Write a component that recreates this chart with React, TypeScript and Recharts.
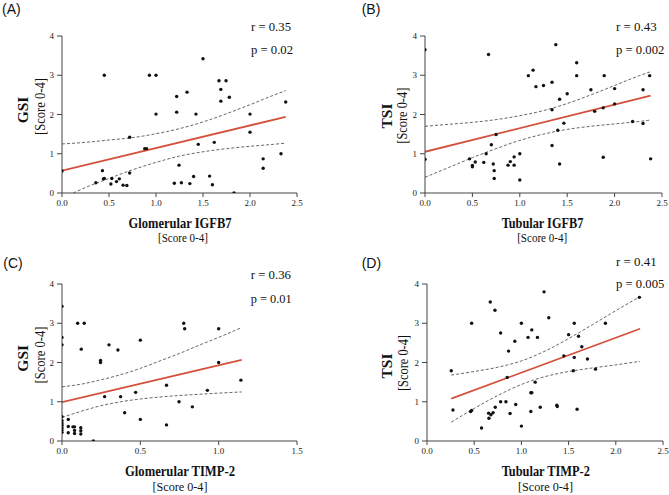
import React from 'react';
import { ComposedChart, Scatter, Line, XAxis, YAxis } from 'recharts';

type P = { x: number; y: number };

const xTicksWide = [0, 0.5, 1, 1.5, 2, 2.5];
const xTicksNarrow = [0, 0.5, 1, 1.5];
const yTicks = [0, 1, 2, 3, 4];

// (A) Glomerular IGFB7 vs GSI
const pointsA: P[] = [
  { x: 0, y: 0.56 }, { x: 0.45, y: 3.0 }, { x: 0.36, y: 0.26 }, { x: 0.43, y: 0.57 },
  { x: 0.44, y: 0.36 }, { x: 0.45, y: 0.37 }, { x: 0.52, y: 0.23 }, { x: 0.53, y: 0.37 },
  { x: 0.58, y: 0.29 }, { x: 0.61, y: 0.36 }, { x: 0.65, y: 0.2 }, { x: 0.69, y: 0.19 },
  { x: 0.72, y: 0.51 }, { x: 0.72, y: 1.42 }, { x: 0.88, y: 1.13 }, { x: 0.9, y: 1.13 },
  { x: 0.93, y: 3.0 }, { x: 1.0, y: 3.0 }, { x: 1.0, y: 2.01 }, { x: 1.195, y: 0.25 },
  { x: 1.22, y: 2.46 }, { x: 1.22, y: 2.06 }, { x: 1.245, y: 0.71 }, { x: 1.27, y: 0.26 },
  { x: 1.33, y: 2.57 }, { x: 1.36, y: 0.24 }, { x: 1.4, y: 0.42 }, { x: 1.425, y: 2.01 },
  { x: 1.45, y: 1.24 }, { x: 1.5, y: 3.42 }, { x: 1.57, y: 0.43 }, { x: 1.6, y: 0.21 },
  { x: 1.62, y: 1.29 }, { x: 1.67, y: 2.86 }, { x: 1.69, y: 2.64 }, { x: 1.69, y: 2.34 },
  { x: 1.745, y: 2.86 }, { x: 1.78, y: 2.44 }, { x: 1.83, y: 0.0 }, { x: 2.0, y: 2.01 },
  { x: 2.0, y: 1.55 }, { x: 2.14, y: 0.87 }, { x: 2.14, y: 0.63 }, { x: 2.33, y: 1.0 },
  { x: 2.38, y: 2.32 },
];
const fitA: P[] = [{ x: 0, y: 0.57 }, { x: 2.38, y: 1.94 }];
const upperA: P[] = [
  { x: 0, y: 1.25 }, { x: 0.25, y: 1.29 }, { x: 0.5, y: 1.35 }, { x: 0.75, y: 1.41 },
  { x: 1.0, y: 1.51 }, { x: 1.25, y: 1.64 }, { x: 1.5, y: 1.81 }, { x: 1.75, y: 2.02 },
  { x: 2.0, y: 2.25 }, { x: 2.25, y: 2.49 }, { x: 2.38, y: 2.61 },
];
const lowerA: P[] = [
  { x: 0.12, y: 0 }, { x: 0.25, y: 0.14 }, { x: 0.5, y: 0.37 }, { x: 0.75, y: 0.59 },
  { x: 1.0, y: 0.78 }, { x: 1.25, y: 0.94 }, { x: 1.5, y: 1.05 }, { x: 1.75, y: 1.13 },
  { x: 2.0, y: 1.19 }, { x: 2.25, y: 1.24 }, { x: 2.38, y: 1.27 },
];

// (B) Tubular IGFB7 vs TSI
const pointsB: P[] = [
  { x: 0, y: 3.65 }, { x: 0, y: 0.86 }, { x: 0.67, y: 3.53 }, { x: 0.47, y: 0.87 },
  { x: 0.5, y: 0.7 }, { x: 0.5, y: 0.67 }, { x: 0.53, y: 0.79 }, { x: 0.62, y: 0.78 },
  { x: 0.645, y: 1.0 }, { x: 0.7, y: 1.23 }, { x: 0.72, y: 0.74 }, { x: 0.73, y: 0.57 },
  { x: 0.73, y: 0.37 }, { x: 0.75, y: 1.49 }, { x: 0.876, y: 0.71 }, { x: 0.9, y: 0.8 },
  { x: 0.94, y: 0.92 }, { x: 0.94, y: 0.71 }, { x: 1.0, y: 1.0 }, { x: 1.0, y: 0.33 },
  { x: 1.09, y: 2.99 }, { x: 1.14, y: 3.13 }, { x: 1.17, y: 2.71 }, { x: 1.25, y: 2.74 },
  { x: 1.34, y: 2.82 }, { x: 1.34, y: 2.12 }, { x: 1.34, y: 1.21 }, { x: 1.38, y: 3.78 },
  { x: 1.4, y: 1.6 }, { x: 1.42, y: 2.39 }, { x: 1.42, y: 0.74 }, { x: 1.465, y: 1.78 },
  { x: 1.5, y: 2.53 }, { x: 1.6, y: 3.32 }, { x: 1.6, y: 2.99 }, { x: 1.75, y: 2.63 },
  { x: 1.79, y: 2.08 }, { x: 1.88, y: 2.17 }, { x: 1.88, y: 0.91 }, { x: 1.89, y: 2.99 },
  { x: 2.0, y: 2.66 }, { x: 2.0, y: 2.27 }, { x: 2.19, y: 1.82 }, { x: 2.3, y: 1.77 },
  { x: 2.3, y: 2.63 }, { x: 2.37, y: 2.99 }, { x: 2.38, y: 0.87 },
];
const fitB: P[] = [{ x: 0, y: 1.05 }, { x: 2.38, y: 2.48 }];
const upperB: P[] = [
  { x: 0, y: 1.7 }, { x: 0.25, y: 1.75 }, { x: 0.5, y: 1.8 }, { x: 0.75, y: 1.87 },
  { x: 1.0, y: 1.97 }, { x: 1.25, y: 2.1 }, { x: 1.5, y: 2.28 }, { x: 1.75, y: 2.5 },
  { x: 2.0, y: 2.74 }, { x: 2.25, y: 2.98 }, { x: 2.38, y: 3.09 },
];
const lowerB: P[] = [
  { x: 0, y: 0.4 }, { x: 0.25, y: 0.65 }, { x: 0.5, y: 0.9 }, { x: 0.75, y: 1.13 },
  { x: 1.0, y: 1.34 }, { x: 1.25, y: 1.5 }, { x: 1.5, y: 1.62 }, { x: 1.75, y: 1.7 },
  { x: 2.0, y: 1.76 }, { x: 2.25, y: 1.82 }, { x: 2.38, y: 1.86 },
];

// (C) Glomerular TIMP-2 vs GSI
const pointsC: P[] = [
  { x: 0, y: 3.43 }, { x: 0, y: 2.64 }, { x: 0, y: 2.45 }, { x: 0, y: 0.62 },
  { x: 0, y: 0.52 }, { x: 0, y: 0.46 }, { x: 0, y: 0.4 }, { x: 0, y: 0.34 },
  { x: 0, y: 0.28 }, { x: 0, y: 0.22 }, { x: 0.04, y: 0.55 }, { x: 0.04, y: 0.37 },
  { x: 0.04, y: 0.21 }, { x: 0.07, y: 0.36 }, { x: 0.08, y: 0.36 }, { x: 0.08, y: 0.27 },
  { x: 0.08, y: 0.19 }, { x: 0.12, y: 0.34 }, { x: 0.12, y: 0.26 }, { x: 0.12, y: 0.18 },
  { x: 0.2, y: 0 }, { x: 0.1, y: 3.0 }, { x: 0.142, y: 3.0 }, { x: 0.123, y: 2.34 },
  { x: 0.246, y: 2.05 }, { x: 0.246, y: 2.0 }, { x: 0.272, y: 1.13 }, { x: 0.3, y: 2.45 },
  { x: 0.357, y: 2.32 }, { x: 0.374, y: 1.13 }, { x: 0.4, y: 0.72 }, { x: 0.47, y: 1.24 },
  { x: 0.5, y: 2.57 }, { x: 0.5, y: 0.55 }, { x: 0.667, y: 1.42 }, { x: 0.667, y: 0.41 },
  { x: 0.747, y: 1.0 }, { x: 0.777, y: 3.0 }, { x: 0.783, y: 2.86 }, { x: 0.832, y: 0.87 },
  { x: 0.928, y: 1.29 }, { x: 1.0, y: 2.86 }, { x: 1.0, y: 2.0 }, { x: 1.142, y: 1.55 },
];
const fitC: P[] = [{ x: 0, y: 0.99 }, { x: 1.147, y: 2.07 }];
const upperC: P[] = [
  { x: 0, y: 1.38 }, { x: 0.125, y: 1.45 }, { x: 0.25, y: 1.56 }, { x: 0.375, y: 1.69 },
  { x: 0.5, y: 1.85 }, { x: 0.625, y: 2.04 }, { x: 0.75, y: 2.23 }, { x: 0.875, y: 2.44 },
  { x: 1.0, y: 2.64 }, { x: 1.147, y: 2.89 },
];
const lowerC: P[] = [
  { x: 0, y: 0.6 }, { x: 0.125, y: 0.76 }, { x: 0.25, y: 0.9 }, { x: 0.375, y: 1.0 },
  { x: 0.5, y: 1.07 }, { x: 0.625, y: 1.12 }, { x: 0.75, y: 1.16 }, { x: 0.875, y: 1.19 },
  { x: 1.0, y: 1.22 }, { x: 1.147, y: 1.25 },
];

// (D) Tubular TIMP-2 vs TSI
const pointsD: P[] = [
  { x: 0.257, y: 1.79 }, { x: 0.275, y: 0.79 }, { x: 0.473, y: 3.0 }, { x: 0.462, y: 0.75 },
  { x: 0.473, y: 0.78 }, { x: 0.578, y: 0.33 }, { x: 0.67, y: 3.54 }, { x: 0.72, y: 3.33 },
  { x: 0.653, y: 0.71 }, { x: 0.656, y: 0.58 }, { x: 0.677, y: 0.67 }, { x: 0.7, y: 0.72 },
  { x: 0.723, y: 0.86 }, { x: 0.78, y: 2.75 }, { x: 0.78, y: 1.0 }, { x: 0.836, y: 1.0 },
  { x: 0.85, y: 1.62 }, { x: 0.864, y: 2.29 }, { x: 0.88, y: 0.7 }, { x: 0.93, y: 2.54 },
  { x: 0.94, y: 0.93 }, { x: 1.0, y: 3.0 }, { x: 1.0, y: 0.38 }, { x: 1.07, y: 2.64 },
  { x: 1.1, y: 1.23 }, { x: 1.11, y: 1.23 }, { x: 1.1, y: 0.75 }, { x: 1.11, y: 2.83 },
  { x: 1.146, y: 1.5 }, { x: 1.17, y: 2.64 }, { x: 1.2, y: 0.86 }, { x: 1.24, y: 3.8 },
  { x: 1.29, y: 3.14 }, { x: 1.375, y: 0.91 }, { x: 1.38, y: 0.88 }, { x: 1.45, y: 2.17 },
  { x: 1.5, y: 2.71 }, { x: 1.56, y: 3.0 }, { x: 1.56, y: 2.13 }, { x: 1.55, y: 1.79 },
  { x: 1.605, y: 2.67 }, { x: 1.59, y: 0.81 }, { x: 1.64, y: 2.4 }, { x: 1.7, y: 2.09 },
  { x: 1.785, y: 1.83 }, { x: 1.89, y: 3.0 }, { x: 2.25, y: 3.66 },
];
const fitD: P[] = [{ x: 0.257, y: 1.08 }, { x: 2.257, y: 2.86 }];
const upperD: P[] = [
  { x: 0.257, y: 1.68 }, { x: 0.5, y: 1.77 }, { x: 0.75, y: 1.88 }, { x: 1.0, y: 2.04 },
  { x: 1.25, y: 2.29 }, { x: 1.5, y: 2.61 }, { x: 1.75, y: 2.96 }, { x: 2.0, y: 3.32 },
  { x: 2.257, y: 3.68 },
];
const lowerD: P[] = [
  { x: 0.257, y: 0.48 }, { x: 0.5, y: 0.83 }, { x: 0.75, y: 1.16 }, { x: 1.0, y: 1.44 },
  { x: 1.25, y: 1.64 }, { x: 1.5, y: 1.77 }, { x: 1.75, y: 1.86 }, { x: 2.0, y: 1.94 },
  { x: 2.257, y: 2.03 },
];

const SERIF = '"Liberation Serif", "Times New Roman", serif';
const SANS = '"Liberation Sans", Arial, sans-serif';
const RED = '#d4503b';
const W = 334;
const H = 247;

type Cfg = {
  ox: number; oy: number; yW: number; right: number;
  xMax: number; xTicks: number[];
  points: P[]; fit: P[]; upper: P[]; lower: P[];
  letter: string; letterX: number; letterY: number;
  r: string; p: string; rX: number; rY: number; pY: number; rW: number; pW: number;
  xTitle: string; xTitleX: number; xTitleW: number; xTitleY: number;
  xSubX: number; xSubW: number; xSubY: number;
  yTitle: string; yTitleX: number; yTitleY: number;
  ySubX: number; ySubY: number; ySubW: number;
};

const panels: Cfg[] = [
  {
    ox: 0, oy: 0, yW: 62, right: 37, xMax: 2.5, xTicks: xTicksWide,
    points: pointsA, fit: fitA, upper: upperA, lower: lowerA,
    letter: '(A)', letterX: 2, letterY: 13.5,
    r: 'r = 0.35', p: 'p = 0.02', rX: 251, rY: 30.7, pY: 54, rW: 40, pW: 42,
    xTitle: 'Glomerular IGFB7', xTitleX: 180, xTitleW: 103, xTitleY: 228.3,
    xSubX: 183, xSubW: 50, xSubY: 242.3,
    yTitle: 'GSI', yTitleX: 28, yTitleY: 110,
    ySubX: 44.5, ySubY: 106.5, ySubW: 57,
  },
  {
    ox: 335, oy: 0, yW: 90, right: 7, xMax: 2.5, xTicks: xTicksWide,
    points: pointsB, fit: fitB, upper: upperB, lower: lowerB,
    letter: '(B)', letterX: 26.7, letterY: 13.5,
    r: 'r = 0.43', p: 'p = 0.002', rX: 281, rY: 30.7, pY: 54, rW: 40.7, pW: 48.3,
    xTitle: 'Tubular IGFB7', xTitleX: 207.5, xTitleW: 81.7, xTitleY: 228.3,
    xSubX: 207.2, xSubW: 50, xSubY: 242.3,
    yTitle: 'TSI', yTitleX: 56.7, yTitleY: 116,
    ySubX: 72.5, ySubY: 115.7, ySubW: 56,
  },
  {
    ox: 0, oy: 248, yW: 62, right: 37, xMax: 1.5, xTicks: xTicksNarrow,
    points: pointsC, fit: fitC, upper: upperC, lower: lowerC,
    letter: '(C)', letterX: 3.3, letterY: 20.3,
    r: 'r = 0.36', p: 'p = 0.01', rX: 250.7, rY: 31.3, pY: 54.7, rW: 40.3, pW: 41,
    xTitle: 'Glomerular TIMP-2', xTitleX: 180, xTitleW: 110, xTitleY: 228,
    xSubX: 180, xSubW: 55, xSubY: 242.7,
    yTitle: 'GSI', yTitleX: 28, yTitleY: 110.3,
    ySubX: 44.5, ySubY: 107, ySubW: 57,
  },
  {
    ox: 335, oy: 248, yW: 92, right: 6, xMax: 2.5, xTicks: xTicksWide,
    points: pointsD, fit: fitD, upper: upperD, lower: lowerD,
    letter: '(D)', letterX: 26.7, letterY: 20.3,
    r: 'r = 0.41', p: 'p = 0.005', rX: 281, rY: 18, pY: 40.3, rW: 40.7, pW: 48.3,
    xTitle: 'Tubular TIMP-2', xTitleX: 210.8, xTitleW: 88.3, xTitleY: 228,
    xSubX: 210.5, xSubW: 55, xSubY: 242.7,
    yTitle: 'TSI', yTitleX: 56.7, yTitleY: 118,
    ySubX: 72.5, ySubY: 115, ySubW: 56,
  },
];

const Dot = (props: any) => {
  if (props.cx == null || props.cy == null) return <g />;
  return <circle cx={props.cx} cy={props.cy} r={1.7} fill="#111" />;
};

const XTexts = ({ cfg }: { cfg: Cfg }) => (
  <g>
    <text x={cfg.letterX} y={cfg.letterY} fontFamily={SANS} fontSize={14} fill="#111">{cfg.letter}</text>
    <text x={cfg.rX} y={cfg.rY} fontFamily={SERIF} fontSize={13.5} fill="#111"
      textLength={cfg.rW} lengthAdjust="spacingAndGlyphs">{cfg.r}</text>
    <text x={cfg.rX} y={cfg.pY} fontFamily={SERIF} fontSize={13.5} fill="#111"
      textLength={cfg.pW} lengthAdjust="spacingAndGlyphs">{cfg.p}</text>
    <text x={cfg.xTitleX} y={cfg.xTitleY} textAnchor="middle" fontFamily={SERIF} fontWeight="bold"
      fontSize={15} fill="#111" textLength={cfg.xTitleW} lengthAdjust="spacingAndGlyphs">{cfg.xTitle}</text>
    <text x={cfg.xSubX} y={cfg.xSubY} textAnchor="middle" fontFamily={SERIF}
      fontSize={13.5} fill="#111" textLength={cfg.xSubW} lengthAdjust="spacingAndGlyphs">[Score 0-4]</text>
  </g>
);

const YTexts = ({ cfg }: { cfg: Cfg }) => (
  <g>
    <text x={cfg.yTitleX} y={cfg.yTitleY} textAnchor="middle" fontFamily={SERIF} fontWeight="bold"
      fontSize={15.5} fill="#111" transform={`rotate(-90 ${cfg.yTitleX} ${cfg.yTitleY})`}>{cfg.yTitle}</text>
    <text x={cfg.ySubX} y={cfg.ySubY} textAnchor="middle" fontFamily={SERIF}
      fontSize={14} fill="#111" transform={`rotate(-90 ${cfg.ySubX} ${cfg.ySubY})`}
      textLength={cfg.ySubW} lengthAdjust="spacingAndGlyphs">[Score 0-4]</text>
  </g>
);

const tickStyle = { fill: '#222', fontSize: 9, fontFamily: SERIF };

function Panel({ cfg }: { cfg: Cfg }) {
  return (
    <div style={{ position: 'absolute', left: cfg.ox, top: cfg.oy, width: W, height: H }}>
      <ComposedChart width={W} height={H} margin={{ top: 36, right: cfg.right, bottom: 24, left: 0 }}>
        <XAxis
          type="number" dataKey="x" domain={[0, cfg.xMax]} ticks={cfg.xTicks} allowDataOverflow
          tickFormatter={(v: number) => v.toFixed(1)} height={30} tickSize={4} tickMargin={3}
          stroke="#444" tick={tickStyle} interval={0}
          label={<XTexts cfg={cfg} />}
        />
        <YAxis
          type="number" dataKey="y" domain={[0, 4]} ticks={yTicks} allowDataOverflow
          width={cfg.yW} tickSize={5} tickMargin={3} stroke="#444" tick={tickStyle} interval={0}
          label={<YTexts cfg={cfg} />}
        />
        <Line data={cfg.upper} dataKey="y" type="monotone" stroke="#555" strokeWidth={0.9}
          strokeDasharray="3 2" dot={false} activeDot={false} isAnimationActive={false} />
        <Line data={cfg.lower} dataKey="y" type="monotone" stroke="#555" strokeWidth={0.9}
          strokeDasharray="3 2" dot={false} activeDot={false} isAnimationActive={false} />
        <Line data={cfg.fit} dataKey="y" type="linear" stroke={RED} strokeWidth={1.8}
          dot={false} activeDot={false} isAnimationActive={false} />
        <Scatter data={cfg.points} dataKey="y" shape={Dot} isAnimationActive={false} />
      </ComposedChart>
    </div>
  );
}

export default function App() {
  return (
    <div style={{ position: 'absolute', left: 0, top: 0, width: 669, height: 495, background: '#fff' }}>
      {panels.map((cfg) => (
        <Panel key={cfg.letter} cfg={cfg} />
      ))}
    </div>
  );
}
